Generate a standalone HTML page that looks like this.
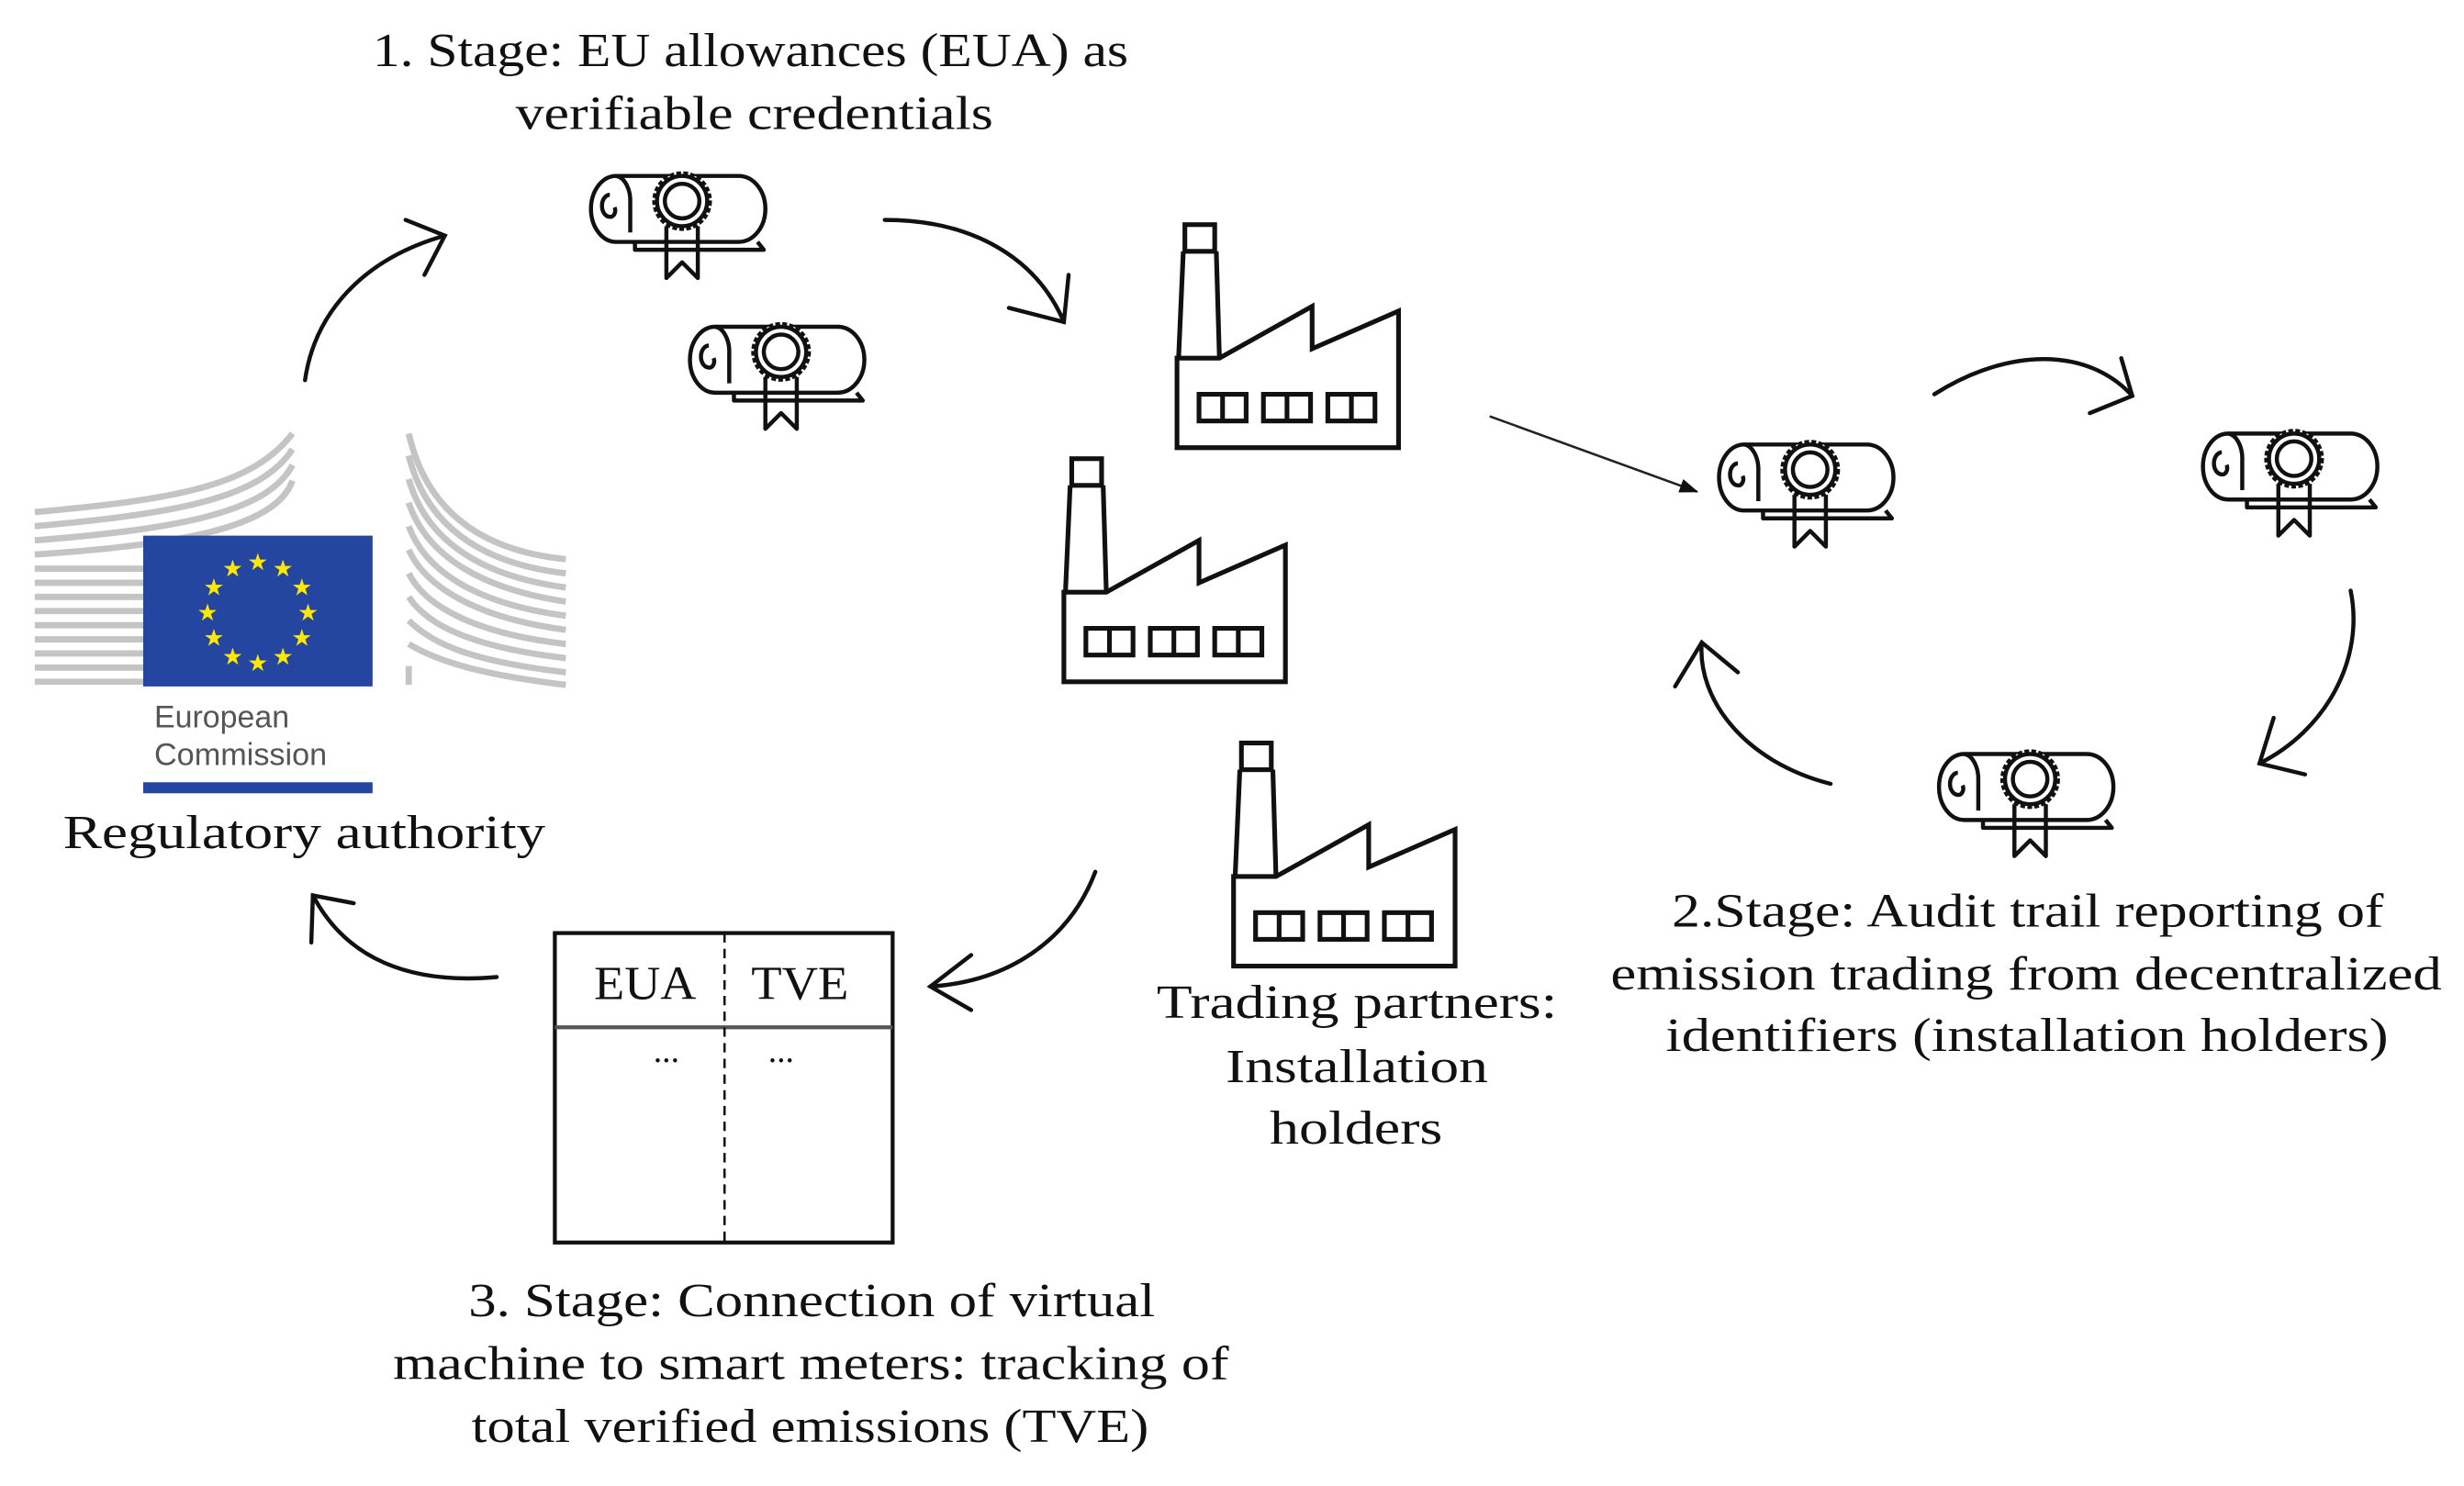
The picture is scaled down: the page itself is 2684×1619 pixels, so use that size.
<!DOCTYPE html>
<html><head><meta charset="utf-8"><style>
html,body{margin:0;padding:0;background:#fff;}
svg{display:block;}
text{font-family:"Liberation Serif",serif;fill:#111;}
</style></head><body>
<svg width="2684" height="1619" viewBox="0 0 1568 946" xmlns="http://www.w3.org/2000/svg">
<defs>
<g id="cert" fill="none" stroke="#111" stroke-width="2.6" stroke-linejoin="round">
  <path d="M18 8 H96 A17 21 0 0 1 96 50 H18 A16 21 0 0 1 18 8 Z" fill="#fff"/>
  <path d="M18 8 A10 16 0 0 1 27 25 V44"/>
  <path d="M14 20 A5 7 0 0 0 14 34 A3 4 0 0 0 17 28"/>
  <path d="M30 50 V55 H112 L108 50"/>
  <path d="M50 40 V73 L60 63 L70 73 V40"/>
  <circle cx="60" cy="24" r="18" fill="#fff" stroke-dasharray="3 1.5" stroke-width="2"/>
  <circle cx="60" cy="24" r="16" fill="#fff"/>
  <circle cx="60" cy="24" r="11" fill="#fff"/>
</g>
<g id="fac" fill="none" stroke="#111" stroke-width="3" stroke-linejoin="miter">
  <rect x="5" y="0" width="19" height="17"/>
  <path d="M4 17 L1 85 M25 17 L27 85"/>
  <path d="M0 85 H27 L86 52 V79 L141 55 V142 H0 Z"/>
  <rect x="14" y="108" width="30" height="17"/><line x1="29" y1="108" x2="29" y2="125"/>
  <rect x="55" y="108" width="30" height="17"/><line x1="70" y1="108" x2="70" y2="125"/>
  <rect x="96" y="108" width="30" height="17"/><line x1="111" y1="108" x2="111" y2="125"/>
</g>
<marker id="fh" markerWidth="12" markerHeight="9" refX="11" refY="4.5" orient="auto" markerUnits="userSpaceOnUse"><path d="M0 0 L12 4.5 L0 9 Z" fill="#111"/></marker>
</defs>

<g font-size="30" lengthAdjust="spacingAndGlyphs">
<text x="237" y="42" textLength="481" lengthAdjust="spacingAndGlyphs">1. Stage: EU allowances (EUA) as</text>
<text x="328" y="82" textLength="304" lengthAdjust="spacingAndGlyphs">verifiable credentials</text>
<text x="40" y="540" textLength="307" lengthAdjust="spacingAndGlyphs">Regulatory authority</text>
<text x="736" y="648" textLength="255" lengthAdjust="spacingAndGlyphs">Trading partners:</text>
<text x="780" y="689" textLength="167" lengthAdjust="spacingAndGlyphs">Installation</text>
<text x="808" y="728" textLength="110" lengthAdjust="spacingAndGlyphs">holders</text>
<text x="1064" y="590" textLength="453" lengthAdjust="spacingAndGlyphs">2.Stage: Audit trail reporting of</text>
<text x="1025" y="630" textLength="529" lengthAdjust="spacingAndGlyphs">emission trading from decentralized</text>
<text x="1060" y="669" textLength="460" lengthAdjust="spacingAndGlyphs">identifiers (installation holders)</text>
<text x="298" y="838" textLength="437" lengthAdjust="spacingAndGlyphs">3. Stage: Connection of virtual</text>
<text x="250" y="878" textLength="532" lengthAdjust="spacingAndGlyphs">machine to smart meters: tracking of</text>
<text x="300" y="918" textLength="431" lengthAdjust="spacingAndGlyphs">total verified emissions (TVE)</text>
</g>

<g fill="none" stroke="#c4c4c4" stroke-width="4">
  <path d="M22 326 C110 318 160 310 186 276"/>
  <path d="M22 335 C110 327 165 318 186 286"/>
  <path d="M22 344 C110 337 170 327 186 296"/>
  <path d="M22 353 C110 347 175 337 186 306"/>
  <path d="M22 362 H186"/><path d="M22 371 H186"/><path d="M22 380 H186"/><path d="M22 389 H186"/>
  <path d="M22 398 H186"/><path d="M22 407 H186"/><path d="M22 416 H186"/><path d="M22 425 H186"/><path d="M22 434 H186"/>
  <path d="M260 276 C270 320 300 350 360 356"/>
  <path d="M260 290 C270 330 300 358 360 365"/>
  <path d="M260 305 C270 340 300 366 360 374"/>
  <path d="M260 320 C270 350 300 374 360 383"/>
  <path d="M260 335 C270 362 300 384 360 392"/>
  <path d="M260 350 C270 372 300 393 360 401"/>
  <path d="M260 365 C270 385 300 403 360 410"/>
  <path d="M260 380 C272 398 300 412 360 419"/>
  <path d="M260 395 C275 410 300 421 360 428"/>
  <path d="M260 410 C280 422 310 430 360 436"/>
  <path d="M260 424 V436"/>
</g>
<rect x="91" y="341" width="146" height="96" fill="#2446a0"/>
<g font-size="15" text-anchor="middle" font-family="DejaVu Sans">
  <text x="164" y="363" style="fill:#ffe800">★</text><text x="180" y="367" style="fill:#ffe800">★</text>
  <text x="192" y="379" style="fill:#ffe800">★</text><text x="196" y="395" style="fill:#ffe800">★</text>
  <text x="192" y="411" style="fill:#ffe800">★</text><text x="180" y="423" style="fill:#ffe800">★</text>
  <text x="164" y="427" style="fill:#ffe800">★</text><text x="148" y="423" style="fill:#ffe800">★</text>
  <text x="136" y="411" style="fill:#ffe800">★</text><text x="132" y="395" style="fill:#ffe800">★</text>
  <text x="136" y="379" style="fill:#ffe800">★</text><text x="148" y="367" style="fill:#ffe800">★</text>
</g>
<text x="98" y="463" font-size="20" style="fill:#555;font-family:'Liberation Sans Narrow','Liberation Sans',sans-serif" textLength="86" lengthAdjust="spacingAndGlyphs">European</text>
<text x="98" y="487" font-size="20" style="fill:#555;font-family:'Liberation Sans Narrow','Liberation Sans',sans-serif" textLength="110" lengthAdjust="spacingAndGlyphs">Commission</text>
<rect x="91" y="498" width="146" height="7" fill="#2446a0"/>

<use href="#cert" x="374" y="104"/>
<use href="#cert" x="437" y="200"/>
<use href="#cert" x="1092" y="275"/>
<use href="#cert" x="1400" y="268"/>
<use href="#cert" x="1232" y="472"/>
<use href="#fac" x="749" y="143"/>
<use href="#fac" x="677" y="292"/>
<use href="#fac" x="785" y="473"/>

<rect x="353" y="594" width="215" height="197" fill="none" stroke="#111" stroke-width="2.5"/>
<line x1="353" y1="654" x2="568" y2="654" stroke="#555" stroke-width="2.5"/>
<line x1="461" y1="594" x2="461" y2="791" stroke="#111" stroke-width="1.5" stroke-dasharray="6 4"/>
<g font-size="30"><text x="378" y="636" textLength="65" lengthAdjust="spacingAndGlyphs">EUA</text><text x="478" y="636" textLength="62" lengthAdjust="spacingAndGlyphs">TVE</text></g>
<g font-size="22" text-anchor="middle"><text x="424" y="676">...</text><text x="497" y="676">...</text></g>

<g fill="none" stroke="#111" stroke-width="2.6" stroke-linecap="round">
  <path d="M194 242 C200 200 230 165 283 150"/><path d="M258 140 L283 150 L270 175"/>
  <path d="M563 140 C620 140 660 165 677 205"/><path d="M642 196 L677 205 L680 175"/>
  <path d="M1231 251 C1280 220 1330 222 1357 252"/><path d="M1330 263 L1357 252 L1350 228"/>
  <path d="M1496 376 C1505 420 1480 465 1438 486"/><path d="M1467 493 L1438 486 L1447 457"/>
  <path d="M1165 499 C1110 485 1080 445 1083 409"/><path d="M1066 437 L1083 409 L1106 428"/>
  <path d="M697 555 C680 600 640 625 592 628"/><path d="M618 608 L592 628 L618 643"/>
  <path d="M316 622 C260 627 220 610 199 570"/><path d="M198 600 L199 570 L225 575"/>
</g>
<line x1="948" y1="265" x2="1080" y2="313" stroke="#222" stroke-width="1.5" marker-end="url(#fh)"/>
</svg>
</body></html>
